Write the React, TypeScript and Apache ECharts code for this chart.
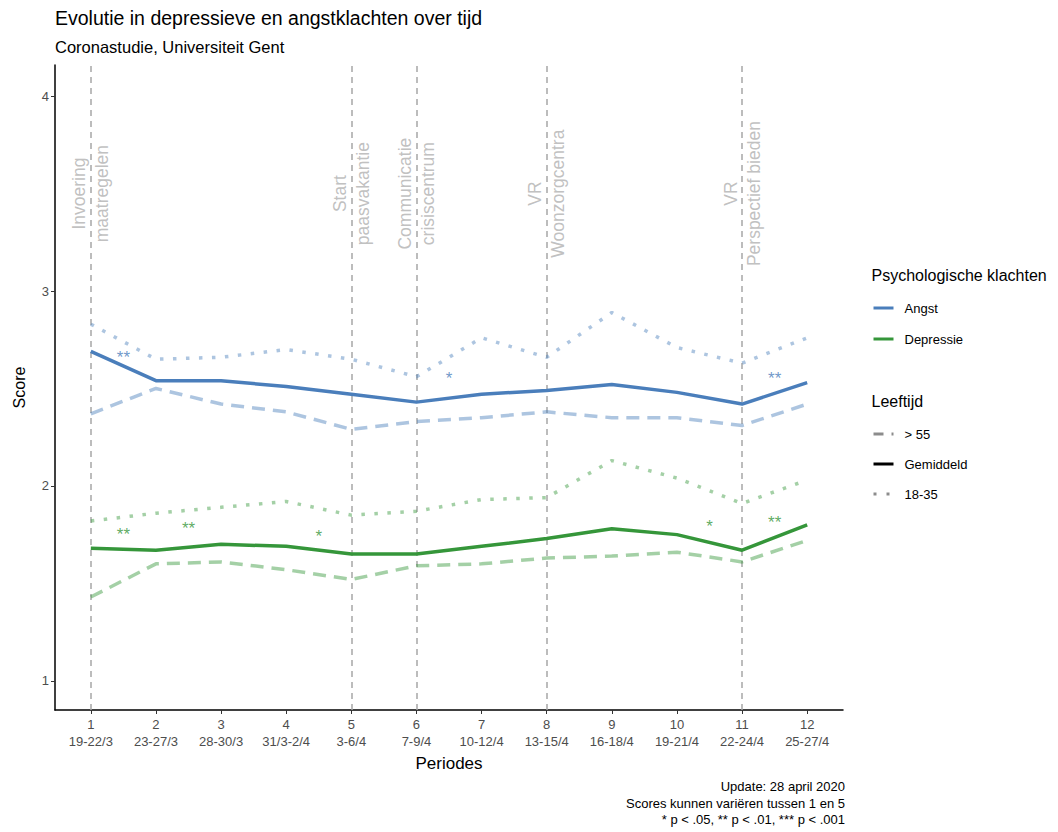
import React, { useEffect, useRef } from "react";
import * as echarts from "echarts";

const periodNums = [1, 2, 3, 4, 5, 6, 7, 8, 9, 10, 11, 12];
const periodDates = ["19-22/3", "23-27/3", "28-30/3", "31/3-2/4", "3-6/4", "7-9/4", "10-12/4", "13-15/4", "16-18/4", "19-21/4", "22-24/4", "25-27/4"];

const angstMean = [2.69, 2.54, 2.54, 2.51, 2.47, 2.43, 2.47, 2.49, 2.52, 2.48, 2.42, 2.53];
const angstYoung = [2.83, 2.65, 2.66, 2.70, 2.65, 2.56, 2.76, 2.66, 2.89, 2.71, 2.63, 2.76];
const angstOld = [2.37, 2.50, 2.42, 2.38, 2.29, 2.33, 2.35, 2.38, 2.35, 2.35, 2.31, 2.42];

const deprMean = [1.68, 1.67, 1.70, 1.69, 1.65, 1.65, 1.69, 1.73, 1.78, 1.75, 1.67, 1.80];
const deprYoung = [1.82, 1.86, 1.89, 1.92, 1.85, 1.87, 1.93, 1.94, 2.13, 2.04, 1.91, 2.03];
const deprOld = [1.43, 1.60, 1.61, 1.57, 1.52, 1.59, 1.60, 1.63, 1.64, 1.66, 1.61, 1.72];

const angstStarX = [1.5, 6.5, 11.5];
const angstStarY = [2.66, 2.55, 2.55];
const angstStarText = ["**", "*", "**"];

const deprStarX = [1.5, 2.5, 4.5, 10.5, 11.5];
const deprStarY = [1.75, 1.78, 1.74, 1.79, 1.81];
const deprStarText = ["**", "**", "*", "*", "**"];

const eventX = [1, 5, 6, 8, 11];
const eventY = [3.5, 3.5, 3.5, 3.5, 3.5];
const eventText = ["Invoering\nmaatregelen", "Start\npaasvakantie", "Communicatie\ncrisiscentrum", "VR\nWoonzorgcentra", "VR\nPerspectief bieden"];

const yTicks = [1, 2, 3, 4];
const captionLines = ["Update: 28 april 2020", "Scores kunnen variëren tussen 1 en 5", "* p < .05, ** p < .01, *** p < .001"];

const BLUE = "#4a7ebb";
const GREEN = "#35963a";
const NARROW = "'Liberation Sans Narrow', 'Arial Narrow', 'Liberation Sans', sans-serif";
const SANS = "'Liberation Sans', Arial, sans-serif";

const pairs = (ys: number[]) => periodNums.map((x, i) => [x, ys[i]]);

export default function App() {
  const ref = useRef<HTMLDivElement>(null);
  useEffect(() => {
    if (!ref.current) return;
    const chart = echarts.init(ref.current, undefined, { renderer: "svg" });
    const lineSeries = (name: string, data: number[], color: string, kind: "solid" | "dashed" | "dotted") => ({
      type: "line",
      name,
      data: pairs(data),
      showSymbol: false,
      symbol: "none",
      z: kind === "solid" ? 5 : 4,
      lineStyle: {
        color,
        width: 3.5,
        opacity: kind === "solid" ? 1 : 0.45,
        type: kind === "solid" ? "solid" : kind === "dashed" ? [13, 8] : [3.5, 9.5],
        cap: "butt",
      },
    });
    const starSeries = (xs: number[], ys: number[], texts: string[], color: string) => ({
      type: "scatter",
      symbolSize: 1,
      itemStyle: { color: "transparent" },
      z: 6,
      data: xs.map((x, i) => ({ value: [x, ys[i]], label: { formatter: texts[i] } })),
      label: {
        show: true,
        position: "inside",
        color,
        fontSize: 17,
        fontFamily: SANS,
      },
    });
    chart.setOption({
      animation: false,
      backgroundColor: "#ffffff",
      textStyle: { fontFamily: SANS },
      title: [
        {
          text: "Evolutie in depressieve en angstklachten over tijd",
          left: 50,
          top: 3,
          textStyle: { fontSize: 19.5, fontWeight: "normal", color: "#000", fontFamily: SANS },
        },
        {
          text: "Coronastudie, Universiteit Gent",
          left: 50,
          top: 33,
          textStyle: { fontSize: 16.5, fontWeight: "normal", color: "#000", fontFamily: SANS },
        },
      ],
      grid: { left: 55, right: 215, top: 65, bottom: 122, containLabel: false },
      xAxis: {
        type: "value",
        min: 0.45,
        max: 12.55,
        name: "Periodes",
        nameLocation: "middle",
        nameGap: 44,
        nameTextStyle: { fontSize: 17, color: "#000", fontFamily: NARROW },
        axisLine: { show: true, onZero: false, lineStyle: { color: "#000", width: 1.5 } },
        axisTick: { show: true, length: 4, customValues: periodNums, lineStyle: { color: "#333" } },
        splitLine: { show: false },
        axisLabel: {
          customValues: periodNums,
          formatter: (v: number) => `${v}\n${periodDates[Math.round(v) - 1]}`,
          color: "#4d4d4d",
          fontSize: 13,
          lineHeight: 17,
          margin: 6,
          fontFamily: NARROW,
        },
      },
      yAxis: {
        type: "value",
        min: 0.85,
        max: 4.16,
        name: "Score",
        nameLocation: "middle",
        nameGap: 28,
        nameRotate: 90,
        nameTextStyle: { fontSize: 16, color: "#000", fontFamily: SANS },
        axisLine: { show: true, onZero: false, lineStyle: { color: "#000", width: 1.5 } },
        axisTick: { show: true, length: 4, customValues: yTicks, lineStyle: { color: "#333" } },
        splitLine: { show: false },
        axisLabel: {
          customValues: yTicks,
          color: "#4d4d4d",
          fontSize: 13,
          margin: 6,
          fontFamily: NARROW,
        },
      },
      series: [
        {
          ...lineSeries("Angst >55", angstOld, BLUE, "dashed"),
          markLine: {
            silent: true,
            symbol: ["none", "none"],
            label: { show: false },
            lineStyle: { type: [6, 5], color: "#a6a6a6", width: 1.5 },
            data: eventX.map((x) => ({ xAxis: x })),
            z: 1,
          },
        },
        lineSeries("Angst 18-35", angstYoung, BLUE, "dotted"),
        lineSeries("Angst", angstMean, BLUE, "solid"),
        lineSeries("Depressie >55", deprOld, GREEN, "dashed"),
        lineSeries("Depressie 18-35", deprYoung, GREEN, "dotted"),
        lineSeries("Depressie", deprMean, GREEN, "solid"),
        starSeries(angstStarX, angstStarY, angstStarText, BLUE),
        starSeries(deprStarX, deprStarY, deprStarText, GREEN),
        {
          type: "scatter",
          symbolSize: 1,
          itemStyle: { color: "transparent" },
          z: 3,
          data: eventX.map((x, i) => ({ value: [x, eventY[i]], label: { formatter: eventText[i] } })),
          label: {
            show: true,
            position: "inside",
            rotate: 90,
            align: "center",
            verticalAlign: "middle",
            color: "#b0b0b0",
            fontSize: 17.5,
            lineHeight: 23,
            fontFamily: SANS,
          },
        },
      ],
      graphic: [
        {
          type: "group",
          left: 871,
          top: 267,
          children: [
            { type: "text", x: 0, y: 0, style: { text: "Psychologische klachten", fontSize: 16, fill: "#000", fontFamily: SANS, textVerticalAlign: "middle" } },
            { type: "line", shape: { x1: 2, y1: 33, x2: 22, y2: 33 }, style: { stroke: BLUE, lineWidth: 3 } },
            { type: "text", x: 33, y: 33, style: { text: "Angst", fontSize: 13, fill: "#000", fontFamily: SANS, textVerticalAlign: "middle" } },
            { type: "line", shape: { x1: 2, y1: 64, x2: 22, y2: 64 }, style: { stroke: GREEN, lineWidth: 3 } },
            { type: "text", x: 33, y: 64, style: { text: "Depressie", fontSize: 13, fill: "#000", fontFamily: SANS, textVerticalAlign: "middle" } },
            { type: "text", x: 0, y: 126, style: { text: "Leeftijd", fontSize: 16, fill: "#000", fontFamily: SANS, textVerticalAlign: "middle" } },
            { type: "line", shape: { x1: 2, y1: 159, x2: 22, y2: 159 }, style: { stroke: "#000", opacity: 0.45, lineWidth: 3, lineDash: [10, 8] } },
            { type: "text", x: 33, y: 159, style: { text: "> 55", fontSize: 13, fill: "#000", fontFamily: SANS, textVerticalAlign: "middle" } },
            { type: "line", shape: { x1: 2, y1: 189, x2: 22, y2: 189 }, style: { stroke: "#000", lineWidth: 3 } },
            { type: "text", x: 33, y: 189, style: { text: "Gemiddeld", fontSize: 13, fill: "#000", fontFamily: SANS, textVerticalAlign: "middle" } },
            { type: "line", shape: { x1: 2, y1: 219, x2: 22, y2: 219 }, style: { stroke: "#000", opacity: 0.45, lineWidth: 3, lineDash: [3, 10] } },
            { type: "text", x: 33, y: 219, style: { text: "18-35", fontSize: 13, fill: "#000", fontFamily: SANS, textVerticalAlign: "middle" } },
          ],
        },
        ...captionLines.map((t, i) => ({
          type: "text",
          right: 1058 - 845,
          top: 780 + i * 16.5,
          style: { text: t, fontSize: 13, fill: "#000", fontFamily: NARROW },
        })),
      ],
    });
    return () => chart.dispose();
  }, []);
  return <div ref={ref} style={{ width: 1058, height: 832, position: "absolute", left: 0, top: 0 }} />;
}
